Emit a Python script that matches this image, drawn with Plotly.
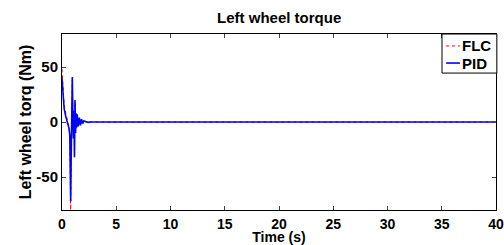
import plotly.graph_objects as go

# Time (s) and torque (Nm)
t_pid = [0, 0.1, 0.2, 0.35, 0.5, 0.65, 0.72, 0.8, 0.86, 0.95, 1.0, 1.05, 1.1, 1.15, 1.2, 1.25, 1.3, 1.35, 1.4, 1.5, 1.6, 1.7, 1.8, 1.9, 2.0, 2.2, 2.4, 2.6, 3.0, 40]
pid = [40, 25, 12, 5, 0, -6, -12, -72, -20, 41, 5, -15, 10, -32, 20, -10, 8, -5, 7, -4, 4, -3, 2.5, -1.5, 1, 0.5, -0.3, 0, 0, 0]

t_flc = [0, 0.1, 0.2, 0.35, 0.5, 0.65, 0.72, 0.8, 0.86, 0.95, 1.0, 1.05, 1.1, 1.15, 1.2, 1.25, 1.3, 1.35, 1.4, 1.5, 1.6, 1.7, 1.8, 1.9, 2.0, 2.2, 2.4, 2.6, 3.0, 40]
flc = [48, 30, 15, 8, 2, -5, -12, -80, -20, 38, 5, -14, 9, -30, 18, -9, 7, -5, 6, -4, 3, -2.5, 2, -1.2, 0.8, 0.4, -0.2, 0, 0, 0]

series_names = ["FLC", "PID"]
series_colors = ["red", "blue"]

x_ticks = [0, 5, 10, 15, 20, 25, 30, 35, 40]
y_ticks = [-50, 0, 50]
y_tick_labels = ["-50", "0", "50"]

fam = "Liberation Sans, Arial, sans-serif"
bold = dict(family=fam, color="black", weight="bold")

fig = go.Figure()
fig.add_trace(go.Scatter(x=t_flc, y=flc, mode="lines", name=series_names[0],
                         line=dict(color=series_colors[0], width=1, dash="dot")))
fig.add_trace(go.Scatter(x=t_pid, y=pid, mode="lines", name=series_names[1],
                         line=dict(color=series_colors[1], width=1.6)))

# compact MATLAB-style legend box (top-right, inside the axes)
shapes = [
    dict(type="rect", xref="paper", yref="paper", x0=0.8756, x1=1.002, y0=0.778, y1=1.0,
         line=dict(color="black", width=1), fillcolor="white", layer="above"),
    dict(type="line", xref="paper", yref="paper", x0=0.885, x1=0.917, y0=0.932, y1=0.932,
         line=dict(color=series_colors[0], width=1, dash="dot"), layer="above"),
    dict(type="line", xref="paper", yref="paper", x0=0.885, x1=0.917, y0=0.835, y1=0.835,
         line=dict(color=series_colors[1], width=1.6), layer="above"),
]
annotations = [
    dict(text=series_names[0], xref="paper", yref="paper", x=0.918, y=0.932, xanchor="left",
         yanchor="middle", showarrow=False, font=dict(size=15, **bold)),
    dict(text=series_names[1], xref="paper", yref="paper", x=0.918, y=0.835, xanchor="left",
         yanchor="middle", showarrow=False, font=dict(size=15, **bold)),
]

fig.update_layout(
    width=504, height=245,
    margin=dict(l=62, r=8, t=34, b=35, autoexpand=False),
    paper_bgcolor="white", plot_bgcolor="white",
    font=dict(size=14, **bold),
    title=dict(text="Left wheel torque", x=0.554, xanchor="center", y=0.927, yanchor="middle",
               font=dict(size=15, **bold)),
    showlegend=False,
    shapes=shapes,
    annotations=annotations,
    xaxis=dict(range=[0, 40], tickvals=x_ticks, ticks="inside", ticklen=4,
               showline=True, linecolor="black", linewidth=1, mirror="ticks",
               showgrid=False, zeroline=False, automargin=False,
               ticklabeloverflow="allow", ticklabelstandoff=1,
               tickfont=dict(size=14, **bold),
               title=dict(text="Time (s)", standoff=0, font=dict(size=14, **bold))),
    yaxis=dict(range=[-80, 80], tickvals=y_ticks, ticktext=y_tick_labels,
               ticks="inside", ticklen=4,
               showline=True, linecolor="black", linewidth=1, mirror="ticks",
               showgrid=False, zeroline=False, automargin=False,
               ticklabeloverflow="allow",
               tickfont=dict(size=15, **bold),
               title=dict(text="Left wheel torq (Nm)", standoff=0, font=dict(size=16, **bold))),
)

fig.write_html("out.html", config={"displayModeBar": False},
               post_script="document.body.style.margin='0';document.body.style.overflow='hidden';")
